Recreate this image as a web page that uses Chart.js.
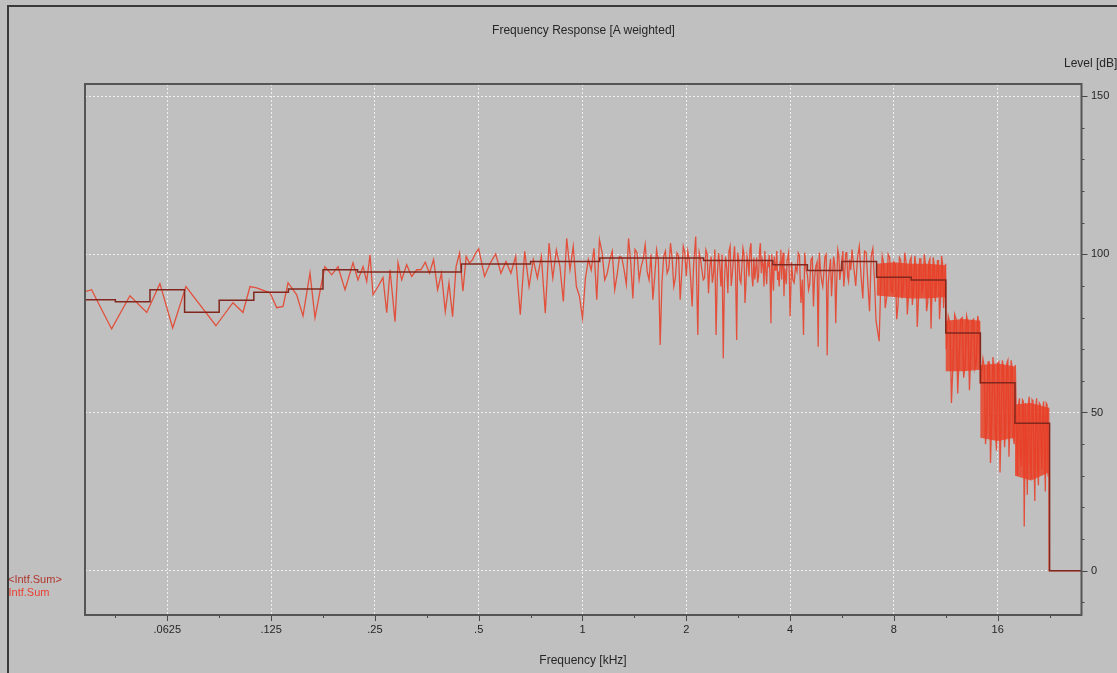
<!DOCTYPE html>
<html>
<head>
<meta charset="utf-8">
<title>Frequency Response [A weighted]</title>
<script src="https://cdn.jsdelivr.net/npm/chart.js@4.4.1/dist/chart.umd.min.js"></script>
<style>
  html, body { margin: 0; padding: 0; background: #c0c0c0; overflow: hidden; }
  #wrap { position: relative; width: 1117px; height: 673px; font-family: "Liberation Sans", Arial, sans-serif; color: #262626; }
  #frame { position: absolute; left: 7px; top: 5px; right: 0; bottom: 0; border-left: 2px solid #3a3a3a; border-top: 2px solid #3a3a3a; pointer-events: none; z-index: 3; }
  canvas { position: absolute; left: 0; top: 0; }
  .lbl { position: absolute; font-size: 12px; line-height: 14px; white-space: nowrap; z-index: 2; }
  .center { width: 200px; text-align: center; }
  .legend { font-size: 11px; }
</style>
</head>
<body>
<div id="wrap">
  <canvas id="chart" width="1117" height="673"></canvas>
  <div class="lbl center" style="left:483.5px; top:23px;">Frequency Response [A weighted]</div>
  <div class="lbl" style="left:1064px; top:56px;">Level [dB]</div>
  <div class="lbl center" style="left:483px; top:653px;">Frequency [kHz]</div>
  <div class="lbl legend" style="left:8px; top:572px; color:#b0362e;">&lt;Intf.Sum&gt;</div>
  <div class="lbl legend" style="left:8.5px; top:585px; color:#ea4034;">Intf.Sum</div>
  <div id="frame"></div>
</div>
<script>
// axes (kHz, dB)
const xMin = 0.03608, xMax = 28.0;
const yMin = -14.0, yMax = 153.8;
const xTickValues = [0.0625, 0.125, 0.25, 0.5, 1, 2, 4, 8, 16];
const xTickLabels = ['.0625', '.125', '.25', '.5', '1', '2', '4', '8', '16'];
const xMinorValues = [0.0442, 0.0884, 0.1768, 0.3536, 0.7071, 1.4142, 2.8284, 5.6569, 11.314, 22.627];
const yTickValues = [-10, 0, 10, 20, 30, 40, 50, 60, 70, 80, 90, 100, 110, 120, 130, 140, 150];
const yTickLabels = [0, 50, 100, 150];

// 1/3 octave band levels (left band edge in kHz)
const bandEdges = [0.03508, 0.04419, 0.05568, 0.07015, 0.08839, 0.1114, 0.1403, 0.1768, 0.2227, 0.2806,
  0.3536, 0.4454, 0.5612, 0.7071, 0.8909, 1.1225, 1.4142, 1.7818, 2.2449, 2.8284,
  3.5636, 4.4898, 5.6569, 7.1272, 8.9797, 11.314, 14.254, 17.959, 22.627];
const bandLevels = [85.6, 85.0, 88.8, 81.7, 85.5, 88.0, 89.0, 95.1, 94.4, 94.4,
  94.4, 96.9, 96.9, 97.7, 97.7, 98.8, 98.8, 98.8, 98.0, 98.0,
  96.7, 94.9, 97.7, 92.7, 91.9, 75.1, 59.4, 46.6, 0];

// narrow band spectrum
const fftFreq = [
  0.0361, 0.0377, 0.0431, 0.0487, 0.0545, 0.0595, 0.0648, 0.0708, 0.0865, 0.0969,
  0.1036, 0.1086, 0.1135, 0.1241, 0.1298, 0.1354, 0.1400, 0.1483, 0.1547, 0.1621,
  0.1676, 0.1752, 0.1791, 0.1874, 0.1954, 0.2048, 0.2160, 0.2233, 0.2310, 0.2367,
  0.2420, 0.2469, 0.2553, 0.2639, 0.2706, 0.2766, 0.2860, 0.2918, 0.2990, 0.3091,
  0.3197, 0.3306,
  0.34, 0.35, 0.36, 0.37, 0.38, 0.39, 0.40, 0.41, 0.42, 0.43, 0.44, 0.45, 0.46, 0.47, 0.48, 0.49, 0.50,
  0.52, 0.54, 0.56, 0.58, 0.60, 0.62, 0.64, 0.66, 0.68, 0.70, 0.72, 0.74, 0.76, 0.78, 0.80, 0.82,
  0.84, 0.86, 0.88, 0.90, 0.92, 0.94, 0.96, 0.98, 1.00,
  1.04, 1.08, 1.10, 1.12, 1.16, 1.20, 1.24, 1.28, 1.32, 1.36, 1.40, 1.44, 1.48, 1.52, 1.56, 1.60,
  1.64, 1.68, 1.72, 1.76, 1.80, 1.84, 1.88, 1.92, 1.96, 2.00,
  2.04, 2.08, 2.13, 2.16, 2.20, 2.24, 2.28, 2.32, 2.36, 2.40, 2.44, 2.48, 2.52, 2.56, 2.60, 2.64,
  2.68, 2.72, 2.76, 2.80, 2.84, 2.88, 2.92, 2.96, 3.00, 3.04, 3.08, 3.12, 3.16, 3.20, 3.24, 3.28,
  3.32, 3.36, 3.40, 3.44, 3.48, 3.52, 3.56, 3.60, 3.64, 3.68, 3.72, 3.76, 3.80, 3.84, 3.88, 3.92,
  3.96, 4.00,
  4.075, 4.15, 4.225, 4.30, 4.375, 4.45, 4.525, 4.60, 4.675, 4.75, 4.825, 4.90, 4.975, 5.05,
  5.125, 5.20, 5.275, 5.35, 5.425, 5.50, 5.575, 5.65, 5.725, 5.80, 5.875, 5.95,
  6.05, 6.2, 6.35, 6.5, 6.65, 6.8, 6.95, 7.1, 7.25, 7.4, 7.55, 7.7, 7.85, 8.0, 8.15, 8.3, 8.45,
  8.6, 8.75, 8.9, 9.05, 9.2, 9.35, 9.5, 9.65, 9.8, 9.95, 10.1, 10.25, 10.4, 10.55, 10.7, 10.85,
  11.0, 11.15, 11.3, 11.35,
  11.5, 11.75, 12.0, 12.25, 12.5, 12.75, 13.0, 13.25, 13.5, 13.75, 14.0, 14.25,
  14.5, 14.75, 15.0, 15.25, 15.5, 15.75, 16.0, 16.25, 16.5, 16.75, 17.0, 17.25, 17.5, 17.75, 18.0,
  18.25, 18.5, 18.75, 19.0, 19.1, 19.25, 19.5, 19.75, 20.0, 20.25, 20.5, 20.75, 21.0, 21.25,
  21.5, 21.75, 22.0, 22.25, 22.4, 22.5, 22.55, 28.0
];
const fftLevel = [
  88.2, 88.8, 76.4, 86.9, 81.6, 90.7, 76.7, 89.8, 77.4, 84.7,
  81.6, 89.8, 89.4, 87.8, 83.1, 83.5, 91.0, 87.2, 80.5, 94.1,
  79.9, 91.0, 96.1, 93.5, 96.1, 88.8, 97.3, 91.9, 96.1, 91.4,
  99.8, 87.2, 89.8, 92.6, 81.5, 95.1, 78.7, 97.3, 91.9, 96.7,
  93.0, 95.1,
  95.1, 97.5, 94.0, 98.3, 88.8, 94.0, 81.9, 90.9, 80.3, 96.2, 100.4, 88.3, 99.3, 97.2, 98.3, 100.4, 101.7,
  93.0, 97.2, 100.1, 94.0, 97.7, 94.0, 99.3, 80.9, 100.9, 89.8, 98.3, 92.5, 99.3, 81.4, 103.5, 92.5,
  101.4, 96.2, 85.1, 105.0, 95.1, 102.5, 89.8, 86.7, 79.8,
  98.3, 101.9, 85.6, 104.6, 91.9, 98.3, 88.8, 99.3, 95.1, 105.0, 86.0, 100.4, 96.2, 103.0, 91.9, 85.6,
  101.4, 71.3, 99.3, 94.0, 103.5, 89.8, 100.4, 85.6, 102.5, 93.0,
  98.3, 83.5, 105.6, 74.5, 98.3, 91.9, 101.4, 87.7, 99.3, 94.0, 74.5, 100.4, 89.8, 67.1, 99.3, 87.7,
  102.5, 94.0, 102.5, 72.9, 98.3, 90.9, 101.9, 84.6, 99.3, 93.0, 103.5, 89.8, 92.0, 99.0, 93.0, 103.5,
  98.3, 89.8, 95.1, 97.2, 99.8, 78.2, 94.0, 99.3, 96.2, 91.9, 89.8, 101.4, 98.3, 86.7, 93.0, 98.3,
  100.4, 80.3,
  91.9, 96.2, 100.4, 84.6, 74.5, 95.1, 88.8, 98.3, 83.5, 96.2, 70.8, 95.1, 89.8, 99.3,
  68.1, 95.1, 86.7, 99.3, 78.2, 101.4, 91.9, 98.3, 89.8, 100.4, 93.0, 98.3,
  101.5, 90.0, 102.5, 86.0, 100.5, 82.0, 101.8, 79.0, 72.5, 99.5, 83.0, 100.0, 89.0, 97.5, 79.5, 99.0, 86.0,
  100.5, 81.0, 98.0, 84.0, 99.5, 77.0, 98.5, 88.0, 100.0, 82.0, 97.5, 76.5, 99.0, 85.0, 98.0, 79.5,
  99.5, 83.0, 97.0, 70.0,
  80.5, 53.0, 81.0, 56.0, 79.5, 61.0, 80.5, 57.0, 79.0, 64.0, 80.5, 59.0,
  67.0, 40.0, 66.0, 34.0, 67.5, 44.0, 65.5, 31.0, 66.5, 39.0, 65.5, 36.0, 66.5, 42.0, 65.0,
  30.0, 54.5, 33.0, 53.5, 14.0, 53.0, 24.0, 55.0, 29.0, 53.5, 22.0, 54.5, 27.0, 52.5,
  32.0, 53.5, 25.0, 52.5, 30.0, 51.5, 0, 0
];
// extra bins read in the dense part (merged with the above by frequency)
const fftFreq2 = [
  1.02, 1.06, 1.14, 1.18, 1.22, 1.26, 1.30, 1.34, 1.38, 1.42, 1.46, 1.50, 1.54, 1.58, 1.62, 1.66,
  1.70, 1.74, 1.78, 1.82, 1.86, 1.90, 1.94, 1.98,
  2.02, 2.06, 2.10, 2.18, 2.22, 2.26, 2.30, 2.34, 2.38, 2.42, 2.46, 2.50, 2.54, 2.58, 2.62, 2.66,
  2.70, 2.74, 2.78, 2.82, 2.86, 2.90, 2.94, 2.98, 3.02, 3.06, 3.10, 3.14, 3.18, 3.22, 3.26, 3.30,
  3.34, 3.38, 3.42, 3.46, 3.50, 3.54, 3.58, 3.62, 3.66, 3.70, 3.74, 3.78, 3.82, 3.86, 3.90, 3.94, 3.98,
  4.04, 4.11, 4.19, 4.26, 4.34, 4.41, 4.49, 4.56, 4.64, 4.71, 4.79, 4.86, 4.94, 5.01, 5.09, 5.16,
  5.24, 5.31, 5.39, 5.46, 5.54, 5.61, 5.69, 5.76, 5.84, 5.91, 6.00,
  6.125, 6.275, 6.425, 6.575, 6.725, 6.875, 7.025,
  7.325, 7.475, 7.625, 7.775, 7.925, 8.075, 8.225, 8.375, 8.525, 8.675, 8.825, 8.975, 9.125, 9.275,
  9.425, 9.575, 9.725, 9.875, 10.025, 10.175, 10.325, 10.475, 10.625, 10.775, 10.925, 11.075, 11.225,
  11.625, 11.875, 12.125, 12.375, 12.625, 12.875, 13.125, 13.375, 13.625, 13.875, 14.125,
  14.625, 14.875, 15.125, 15.375, 15.625, 15.875, 16.125, 16.375, 16.625, 16.875, 17.125, 17.375,
  17.625, 17.875,
  18.375, 18.625, 18.875, 19.375, 19.625, 19.875, 20.125, 20.375, 20.625, 20.875, 21.125, 21.375,
  21.625, 21.875, 22.125
];
const fftLevel2 = [
  92.5, 95.0, 100.5, 94.0, 101.0, 93.5, 99.0, 90.5, 97.5, 101.5, 92.0, 98.5, 94.5, 100.0, 93.0, 98.0,
  91.0, 101.0, 95.5, 98.5, 92.5, 99.5, 94.0, 100.5,
  101.0, 92.0, 96.5, 100.5, 95.0, 92.5, 100.0, 96.0, 91.0, 101.5, 93.0, 97.0, 100.0, 91.5, 95.5, 101.0,
  90.0, 98.5, 93.5, 100.5, 92.0, 96.5, 100.0, 91.0, 97.5, 101.5, 93.0, 99.0, 95.5, 91.0, 100.5, 94.0,
  97.0, 101.0, 90.5, 96.5, 92.5, 100.0, 88.5, 95.0, 101.0, 94.5, 97.5, 92.0, 100.5, 95.5, 90.5, 99.0, 93.0,
  97.5, 91.0, 94.5, 99.5, 92.0, 100.5, 93.5, 90.5, 99.0, 92.5, 97.5, 100.5, 91.5, 94.0, 100.0, 90.5,
  98.5, 93.0, 96.5, 91.0, 99.5, 94.5, 101.0, 93.5, 100.5, 91.5, 95.0,
  95.5, 99.0, 93.0, 101.0, 90.5, 99.5, 92.0,
  90.0, 97.0, 86.5, 99.0, 88.0, 96.5, 84.0, 98.0, 90.5, 97.5, 87.0, 99.0, 89.5, 96.0,
  85.5, 98.5, 90.0, 97.0, 84.5, 98.5, 88.5, 96.5, 91.0, 98.0, 86.0, 97.0, 89.0,
  78.5, 66.0, 79.5, 68.0, 80.0, 65.0, 78.5, 69.0, 79.5, 66.0, 78.0,
  64.5, 46.0, 66.0, 48.0, 64.0, 38.0, 66.0, 47.0, 64.5, 45.0, 66.5, 49.0,
  64.0, 40.0,
  52.0, 36.0, 54.0, 40.0, 52.5, 35.0, 54.0, 38.0, 51.5, 34.0, 53.0, 40.0,
  51.0, 37.0, 53.0
];

// filled body of the dense spectrum above 7 kHz (upper / lower edge)
const coreFreq = [7.13, 8.0, 8.98, 10.0, 11.31, 11.32, 12.7, 14.25, 14.26, 16.0, 17.96, 17.97, 20.0, 22.5];
const coreTop = [97.0, 97.5, 97.0, 97.0, 96.5, 79.0, 79.5, 79.0, 65.0, 65.5, 64.5, 52.5, 53.0, 51.5];
const coreBottom = [87.0, 86.5, 86.0, 86.0, 86.5, 63.0, 63.0, 63.5, 42.0, 41.0, 42.0, 30.0, 28.5, 31.0];

const toPoints = (xs, ys) => xs.map((f, i) => ({ x: f, y: ys[i] }));
const bandPoints = toPoints(bandEdges, bandLevels);
bandPoints.push({ x: xMax, y: bandLevels[bandLevels.length - 1] });
const fftPoints = toPoints(fftFreq, fftLevel).concat(toPoints(fftFreq2, fftLevel2)).sort((a, b) => a.x - b.x);

const font = { family: '"Liberation Sans", Arial, sans-serif', size: 11 };
const gridColor = 'rgba(245,245,245,0.9)';
const noLine = 'rgba(0,0,0,0)';

// plot frame and tick marks
const frameTicks = {
  id: 'frameTicks',
  afterDraw(chart) {
    const { ctx, chartArea: a, scales: { x, y } } = chart;
    ctx.save();
    ctx.strokeStyle = '#484848';
    ctx.lineWidth = 1;
    x.ticks.forEach(t => {
      const px = Math.round(x.getPixelForValue(t.value)) + 0.5;
      const len = xTickValues.includes(t.value) ? 6 : 3;
      ctx.beginPath(); ctx.moveTo(px, a.bottom); ctx.lineTo(px, a.bottom + len); ctx.stroke();
    });
    y.ticks.forEach(t => {
      const py = Math.round(y.getPixelForValue(t.value)) + 0.5;
      const len = yTickLabels.includes(t.value) ? 6 : 3;
      ctx.beginPath(); ctx.moveTo(a.right, py); ctx.lineTo(a.right + len, py); ctx.stroke();
    });
    ctx.lineWidth = 2;
    ctx.strokeStyle = '#555555';
    ctx.strokeRect(a.left, a.top, a.right - a.left, a.bottom - a.top);
    ctx.restore();
  }
};

new Chart(document.getElementById('chart'), {
  type: 'line',
  data: {
    datasets: [
      { label: '<Intf.Sum>', data: bandPoints, stepped: 'before', borderColor: '#82271d', borderWidth: 1.5, pointRadius: 0, order: 0 },
      { label: 'Intf.Sum', data: fftPoints, borderColor: 'rgba(232,60,36,0.85)', borderWidth: 1.3, pointRadius: 0, order: 1 },
      { label: 'core top', data: toPoints(coreFreq, coreTop), fill: '+1', backgroundColor: 'rgba(234,62,34,0.82)', borderColor: noLine, borderWidth: 1, pointRadius: 0, order: 2 },
      { label: 'core bottom', data: toPoints(coreFreq, coreBottom), fill: false, borderColor: noLine, borderWidth: 1, pointRadius: 0, order: 3 }
    ]
  },
  options: {
    responsive: false,
    animation: false,
    events: [],
    layout: { padding: { left: 85, top: 84, right: 0, bottom: 0 } },
    plugins: { legend: { display: false }, tooltip: { enabled: false }, title: { display: false } },
    scales: {
      x: {
        type: 'logarithmic',
        position: 'bottom',
        min: xMin,
        max: xMax,
        afterBuildTicks: s => { s.ticks = xTickValues.concat(xMinorValues).sort((a, b) => a - b).map(v => ({ value: v })); },
        afterFit: s => { s.height = 58; },
        grid: { drawTicks: false, lineWidth: 1, color: c => (c.tick && xTickValues.includes(c.tick.value)) ? gridColor : noLine },
        border: { display: false, dash: [2, 2] },
        ticks: {
          autoSkip: false, maxRotation: 0, padding: 8, color: '#262626', font: font,
          callback: v => { const i = xTickValues.indexOf(v); return i >= 0 ? xTickLabels[i] : ''; }
        }
      },
      y: {
        type: 'linear',
        position: 'right',
        min: yMin,
        max: yMax,
        afterBuildTicks: s => { s.ticks = yTickValues.map(v => ({ value: v })); },
        afterFit: s => { s.width = 35.5; },
        grid: { drawTicks: false, lineWidth: 1, color: c => (c.tick && yTickLabels.includes(c.tick.value)) ? gridColor : noLine },
        border: { display: false, dash: [2, 2] },
        ticks: {
          autoSkip: false, padding: 9.5, color: '#262626', font: font,
          callback: v => yTickLabels.includes(v) ? String(v) : ''
        }
      }
    }
  },
  plugins: [frameTicks]
});
</script>
</body>
</html>
